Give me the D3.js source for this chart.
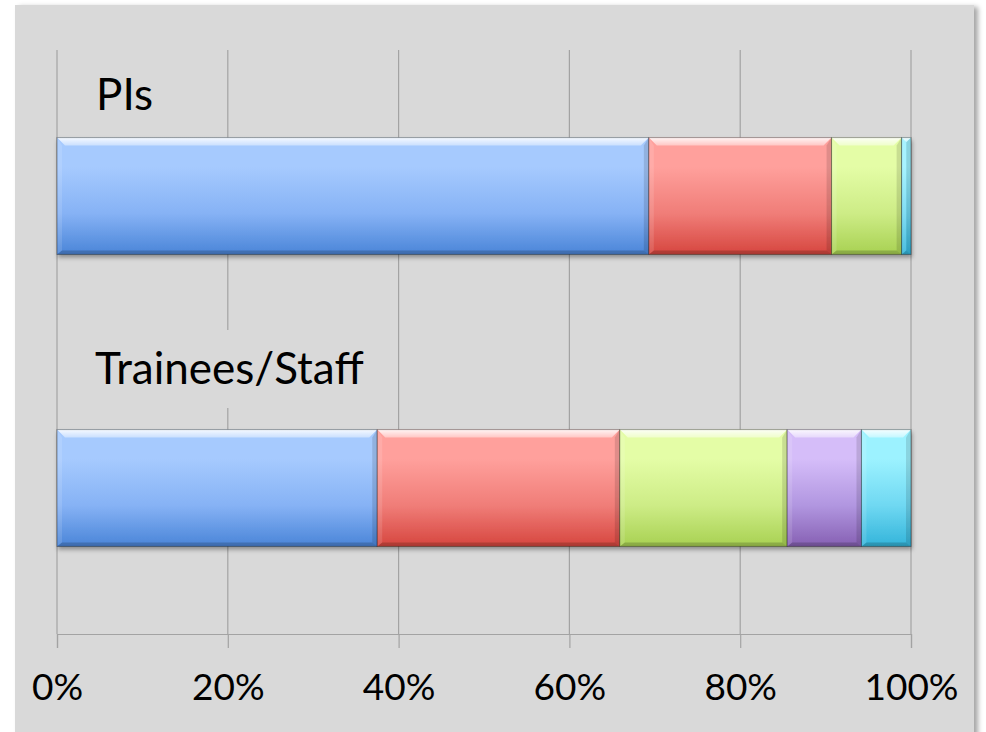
<!DOCTYPE html>
<html><head><meta charset="utf-8">
<script src="https://cdn.jsdelivr.net/npm/d3@7"></script>
<style>
html,body{margin:0;padding:0;background:#fff;}
svg{display:block;}
text{font-family:Lato,"Open Sans",sans-serif;fill:#000;}
</style></head>
<body>
<svg id="c" width="986" height="732"></svg>
<script>
// ---- data ----
const categories = ["PIs", "Trainees/Staff"];
const seriesNames = ["Series 1", "Series 2", "Series 3", "Series 4", "Series 5"];
const piValues = [69.3, 21.4, 8.2, 0.0, 1.1];
const traineeValues = [37.5, 28.4, 19.6, 8.7, 5.8];
const tickValues = [0, 20, 40, 60, 80, 100];
const tickLabels = ["0%", "20%", "40%", "60%", "80%", "100%"];
const seriesColors = [
  {top:"#a6cafe", mid:"#86b2f5", bot:"#4a85d8"},
  {top:"#ffa09c", mid:"#f07d78", bot:"#d6463f"},
  {top:"#e4fda6", mid:"#cdec86", bot:"#a8d152"},
  {top:"#d5bdf9", mid:"#b196e0", bot:"#8660b3"},
  {top:"#9cf2ff", mid:"#6fd8f2", bot:"#33b4da"}
];

const svg = d3.select("#c");
const defs = svg.append("defs");

const f1 = defs.append("filter").attr("id","panelShadow").attr("x","-5%").attr("y","-5%").attr("width","115%").attr("height","115%");
f1.append("feDropShadow").attr("dx",4).attr("dy",2).attr("stdDeviation",2.5).attr("flood-color","#000").attr("flood-opacity",0.35);
const f2 = defs.append("filter").attr("id","barShadow").attr("x","-5%").attr("y","-20%").attr("width","110%").attr("height","150%");
f2.append("feDropShadow").attr("dx",1).attr("dy",3).attr("stdDeviation",2).attr("flood-color","#000").attr("flood-opacity",0.35);

seriesColors.forEach((c,i)=>{
  const g = defs.append("linearGradient").attr("id","g"+i).attr("x1",0).attr("y1",0).attr("x2",0).attr("y2",1);
  g.append("stop").attr("offset","0%").attr("stop-color",c.top);
  g.append("stop").attr("offset","25%").attr("stop-color",c.top);
  g.append("stop").attr("offset","65%").attr("stop-color",c.mid);
  g.append("stop").attr("offset","100%").attr("stop-color",c.bot);
});
const hl = defs.append("linearGradient").attr("id","hl").attr("x1",0).attr("y1",0).attr("x2",0).attr("y2",1);
hl.append("stop").attr("offset","0%").attr("stop-color","#fff").attr("stop-opacity",0.9);
hl.append("stop").attr("offset","100%").attr("stop-color","#fff").attr("stop-opacity",0.4);

svg.append("rect").attr("x",15).attr("y",5).attr("width",959).attr("height",740)
  .attr("fill","#d9d9d9").attr("filter","url(#panelShadow)");

const x = d3.scaleLinear().domain([0,100]).range([57,911]);
const y = d3.scaleBand().domain(categories).range([50,634]).paddingInner(0.6).paddingOuter(0.3);

svg.append("g").selectAll("line").data(tickValues).join("line")
  .attr("x1",d=>x(d)).attr("x2",d=>x(d)).attr("y1",50).attr("y2",634)
  .attr("stroke","#a3a3a3").attr("stroke-width",1.2);

const axis = d3.axisBottom(x).tickValues(tickValues).tickFormat((d,i)=>tickLabels[i]).tickSize(14).tickPadding(26);
const ag = svg.append("g").attr("transform","translate(0,634)").call(axis);
ag.select(".domain").attr("stroke","#a3a3a3").attr("stroke-width",1.2);
ag.selectAll(".tick line").attr("stroke","#a3a3a3").attr("stroke-width",1.2);
ag.selectAll(".tick text").attr("font-size",37).attr("font-family","Lato").attr("fill","#000").attr("dy","0.71em");

const labelPos = [{x:96,y:110},{x:95,y:384}];
categories.forEach((c,i)=>{
  const t = svg.append("text").attr("x",labelPos[i].x).attr("y",labelPos[i].y).attr("font-size",44).text(c);
  const bb = t.node().getBBox();
  svg.insert("rect", function(){return t.node();})
    .attr("x",bb.x-6).attr("y",labelPos[i].y-54).attr("width",bb.width+12).attr("height",78)
    .attr("fill","#d9d9d9");
});

const rows = [piValues, traineeValues];
rows.forEach((vals,ri)=>{
  const cat = categories[ri];
  const y0 = y(cat), h = y.bandwidth();
  const g = svg.append("g").attr("filter","url(#barShadow)");
  let acc = 0;
  const segs = vals.map((v,si)=>{const s={si,a:acc,b:acc+v}; acc+=v; return s;}).filter(s=>s.b-s.a>0);
  segs.forEach(s=>{
    const xa = x(s.a), xb = x(s.b), w = xb-xa, y1 = y0+h;
    const sg = g.append("g");
    sg.append("rect").attr("x",xa).attr("y",y0).attr("width",w).attr("height",h).attr("fill","url(#g"+s.si+")");
    const b = Math.min(8, w/2), bs = Math.min(5,w/2);
    sg.append("polygon").attr("points",[[xa,y0],[xb,y0],[xb-b,y0+b],[xa+b,y0+b]].join(" ")).attr("fill","url(#hl)");
    sg.append("polygon").attr("points",[[xa,y0],[xa+bs,y0+b],[xa+bs,y1-4],[xa,y1]].join(" ")).attr("fill","#fff").attr("fill-opacity",0.12);
    sg.append("polygon").attr("points",[[xb,y0],[xb-bs,y0+b],[xb-bs,y1-4],[xb,y1]].join(" ")).attr("fill","#000").attr("fill-opacity",0.12);
    sg.append("polygon").attr("points",[[xa,y1],[xa+bs,y1-4],[xb-bs,y1-4],[xb,y1]].join(" ")).attr("fill","#000").attr("fill-opacity",0.18);
    sg.append("rect").attr("x",xa).attr("y",y0).attr("width",w).attr("height",h)
      .attr("fill","none").attr("stroke","#000").attr("stroke-opacity",0.35).attr("stroke-width",1);
  });
});
</script>
</body></html>
